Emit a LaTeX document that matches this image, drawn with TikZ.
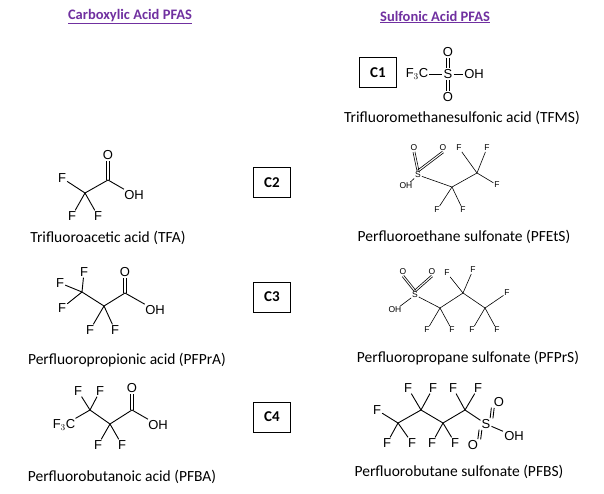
\documentclass[tikz,border=0pt]{standalone}
\usepackage{fontspec}
\usetikzlibrary{calc}
\setmainfont{Carlito}
\newfontfamily\chem{Liberation Sans}
\definecolor{hdr}{HTML}{7030A0}
\newcommand\dbond[3][1.4pt]{\draw[b] ($#2!#1!90:#3$) -- ($#3!#1!-90:#2$); \draw[b] ($#2!#1!-90:#3$) -- ($#3!#1!90:#2$);}
\newcommand\sdbond[3][1pt]{\draw[sb] ($#2!#1!90:#3$) -- ($#3!#1!-90:#2$); \draw[sb] ($#2!#1!-90:#3$) -- ($#3!#1!90:#2$);}
\begin{document}
\begin{tikzpicture}[x=1pt,y=-1pt,
  lab/.style={font=\fontsize{15.5}{18}\selectfont},
  hd/.style={font=\bfseries\fontsize{14.5}{17}\selectfont,text=hdr},
  atm/.style={font=\chem\fontsize{13}{15}\selectfont,inner sep=1pt},
  sat/.style={font=\chem\fontsize{8.5}{10}\selectfont,inner sep=0.8pt},
  bx/.style={draw,line width=1pt,font=\bfseries\fontsize{15}{17}\selectfont,minimum width=37pt,minimum height=30pt},
  b/.style={line width=0.9pt},
  sb/.style={line width=0.6pt}]
\useasboundingbox (0,0) rectangle (604,494);
% headers
\node[hd] (h1) at (130,17) {\underline{Carboxylic Acid PFAS}};
\node[hd] (h2) at (435,17) {\underline{Sulfonic Acid PFAS}};
% boxes
\node[bx] (c1) at (378,73) {C1};
\node[bx] (c2) at (272,183) {C2};
\node[bx] (c3) at (272,297) {C3};
\node[bx] (c4) at (272,417) {C4};
% TFMS
\node[atm] (t1) at (417,74) {F$_3$C};
\node[atm] (t2) at (448,74) {S};
\node[atm] (t3) at (474,74) {OH};
\node[atm] (t4) at (448,52) {O};
\node[atm] (t5) at (448,97) {O};
\draw[b] (t1) -- (t2); \draw[b] (t2) -- (t3);
\dbond{(t2.north)}{(t4.south)} \dbond{(t2.south)}{(t5.north)}
\node[lab] (l1) at (462,118) {Trifluoromethanesulfonic acid (TFMS)};
% TFA
\coordinate (a1) at (85,193); \coordinate (a2) at (108,180);
\node[atm] (a3) at (108,155) {O}; \node[atm] (a4) at (134,195) {OH};
\node[atm] (a5) at (62,178) {F}; \node[atm] (a6) at (72,216) {F}; \node[atm] (a7) at (98,216) {F};
\draw[b] (a1) -- (a2); \dbond{(a2)}{(a3.south)} \draw[b] (a2) -- (a4);
\draw[b] (a1) -- (a5); \draw[b] (a1) -- (a6); \draw[b] (a1) -- (a7);
\node[lab] (l2) at (108,238) {Trifluoroacetic acid (TFA)};
% PFPrA
\coordinate (p1) at (82,292); \coordinate (p2) at (104,306); \coordinate (p3) at (125,293);
\node[atm] (p4) at (84,272) {F}; \node[atm] (p5) at (60,283) {F}; \node[atm] (p6) at (62,308) {F};
\node[atm] (p7) at (125,272) {O}; \node[atm] (p8) at (155,310) {OH};
\node[atm] (p9) at (90,330) {F}; \node[atm] (p10) at (115,330) {F};
\draw[b] (p1) -- (p2) -- (p3); \dbond{(p3)}{(p7.south)} \draw[b] (p3) -- (p8);
\draw[b] (p1) -- (p4); \draw[b] (p1) -- (p5); \draw[b] (p1) -- (p6);
\draw[b] (p2) -- (p9); \draw[b] (p2) -- (p10);
\node[lab] (l3) at (127,360) {Perfluoropropionic acid (PFPrA)};
% PFBA
\node[atm] (q0) at (64,425) {F$_3$C};
\coordinate (q1) at (90,410); \coordinate (q2) at (110,424); \coordinate (q3) at (132,410);
\node[atm] (q4) at (132,388) {O}; \node[atm] (q5) at (158,425) {OH};
\node[atm] (q6) at (78,391) {F}; \node[atm] (q7) at (100,391) {F};
\node[atm] (q8) at (98,445) {F}; \node[atm] (q9) at (122,445) {F};
\draw[b] (q0) -- (q1) -- (q2) -- (q3); \dbond{(q3)}{(q4.south)} \draw[b] (q3) -- (q5);
\draw[b] (q1) -- (q6); \draw[b] (q1) -- (q7); \draw[b] (q2) -- (q8); \draw[b] (q2) -- (q9);
\node[lab] (l4) at (122,477) {Perfluorobutanoic acid (PFBA)};
% PFEtS
\node[sat] (e0) at (418,175) {S};
\node[sat] (e1) at (414,148) {O}; \node[sat] (e2) at (443,148) {O};
\node[sat] (e3) at (406,186) {OH};
\coordinate (e4) at (452,187); \coordinate (e5) at (477,173);
\node[sat] (e6) at (459,148) {F}; \node[sat] (e7) at (487,148) {F}; \node[sat] (e8) at (497,185) {F};
\node[sat] (e9) at (437,210) {F}; \node[sat] (e10) at (463,210) {F};
\draw[sb] (e3) -- (e0) -- (e4) -- (e5);
\sdbond{(e0.north)}{(e1.south)} \sdbond{(e0.north)}{(e2.south)}
\draw[sb] (e5) -- (e6); \draw[sb] (e5) -- (e7); \draw[sb] (e5) -- (e8);
\draw[sb] (e4) -- (e9); \draw[sb] (e4) -- (e10);
\node[lab] (l5) at (464,237) {Perfluoroethane sulfonate (PFEtS)};
% PFPrS
\node[sat] (r0) at (415,295) {S};
\node[sat] (r1) at (403,272) {O}; \node[sat] (r2) at (432,272) {O};
\node[sat] (r3) at (395,310) {OH};
\coordinate (r4) at (440,308); \coordinate (r5) at (463,293); \coordinate (r6) at (485,308);
\node[sat] (r7) at (447,273) {F}; \node[sat] (r8) at (473,270) {F}; \node[sat] (r9) at (507,293) {F};
\node[sat] (r10) at (427,330) {F}; \node[sat] (r11) at (452,330) {F};
\node[sat] (r12) at (472,330) {F}; \node[sat] (r13) at (497,330) {F};
\draw[sb] (r3) -- (r0) -- (r4) -- (r5) -- (r6);
\sdbond{(r0.north)}{(r1.south)} \sdbond{(r0.north)}{(r2.south)}
\draw[sb] (r5) -- (r7); \draw[sb] (r5) -- (r8); \draw[sb] (r6) -- (r9);
\draw[sb] (r4) -- (r10); \draw[sb] (r4) -- (r11);
\draw[sb] (r6) -- (r12); \draw[sb] (r6) -- (r13);
\node[lab] (l6) at (468,358) {Perfluoropropane sulfonate (PFPrS)};
% PFBS
\node[atm] (s0) at (377,410) {F};
\coordinate (s1) at (398,423); \coordinate (s2) at (421,410); \coordinate (s3) at (443,423); \coordinate (s4) at (465,410);
\node[atm] (s5) at (486,424) {S};
\node[atm] (s6) at (499,402) {O}; \node[atm] (s7) at (473,445) {O}; \node[atm] (s8) at (514,436) {OH};
\node[atm] (f1) at (408,388) {F}; \node[atm] (f2) at (433,388) {F}; \node[atm] (f3) at (453,388) {F}; \node[atm] (f4) at (478,388) {F};
\node[atm] (f5) at (387,443) {F}; \node[atm] (f6) at (412,443) {F}; \node[atm] (f7) at (432,443) {F}; \node[atm] (f8) at (455,443) {F};
\draw[b] (s0) -- (s1) -- (s2) -- (s3) -- (s4) -- (s5) -- (s8);
\dbond{(s5.north east)}{(s6.south west)} \dbond{(s5.south west)}{(s7.north east)}
\draw[b] (s2) -- (f1); \draw[b] (s2) -- (f2); \draw[b] (s4) -- (f3); \draw[b] (s4) -- (f4);
\draw[b] (s1) -- (f5); \draw[b] (s1) -- (f6); \draw[b] (s3) -- (f7); \draw[b] (s3) -- (f8);
\node[lab] (l7) at (459,472) {Perfluorobutane sulfonate (PFBS)};
\end{tikzpicture}
\end{document}
